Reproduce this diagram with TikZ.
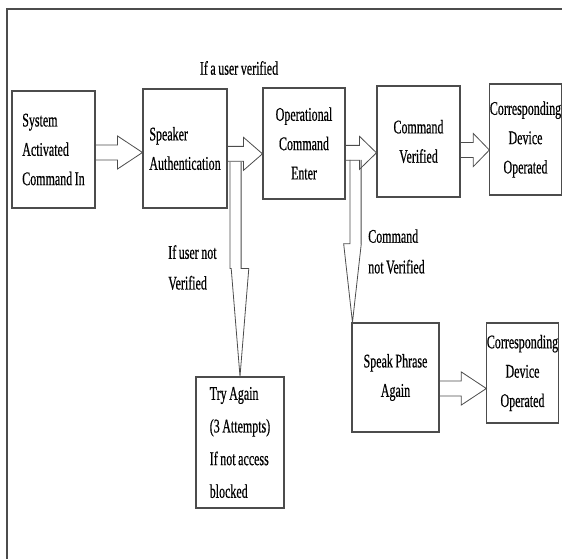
\documentclass[tikz,border=0pt]{standalone}
\usepackage{fontspec}
\setmainfont{Liberation Serif}[FakeStretch=0.62,WordSpace=0.85,FakeBold=0.5]
\usetikzlibrary{calc}

% hollow block arrows, sizes in pt
\newcommand\harrow[3]{%
  \draw[blockarr] let \p1=#1, \p2=#2 in
    (\x1,\y1+5.6pt) -- (\x2-#3,\y1+5.6pt) -- (\x2-#3,\y1+12.4pt) -- (\x2,\y1)
    -- (\x2-#3,\y1-12.4pt) -- (\x2-#3,\y1-5.6pt) -- (\x1,\y1-5.6pt);
}
\newcommand\varrow[3]{%
  \draw[blockarr] let \p1=#1, \p2=#2 in
    (\x1-4.2pt,\y1) -- (\x1-4.2pt,\y2+#3) -- (\x2-6.6pt,\y2+#3) -- (\x2,\y2)
    -- (\x2+6.6pt,\y2+#3) -- (\x1+4.2pt,\y2+#3) -- (\x1+4.2pt,\y1);
}

\begin{document}
\begin{tikzpicture}[x=0.75pt,y=-0.75pt,
    box/.style={draw=black!70,line width=0.8pt,inner sep=2pt,
      font=\fontsize{14.5}{22}\selectfont},
    blockarr/.style={draw=black!70,line width=0.6pt,line join=miter},
    lbl/.style={font=\fontsize{14.5}{23}\selectfont,inner sep=0pt}]
  \useasboundingbox (0,0) rectangle (562,559);
  % frame
  \draw[black!70,line width=1.1pt] (7,559) -- (7,9) -- (562,9);

  % top row
  \node[box,minimum width=62.25pt,minimum height=87.75pt,align=left]
    (act) at (53.5,149.5) {System\\Activated\\Command In};
  \node[box,minimum width=63pt,minimum height=89.25pt,align=left]
    (spk) at (185,148.5) {Speaker\\Authentication};
  \node[box,minimum width=61.5pt,minimum height=83.25pt,align=center]
    (opc) at (304,143.5) {Operational\\Command\\Enter};
  \node[box,minimum width=62.25pt,minimum height=83.25pt,align=center]
    (cmv) at (418.5,141.5) {Command\\Verified};
  \node[box,minimum width=51.75pt,minimum height=83.25pt,align=center,inner sep=0pt]
    (dev1) at (525.5,139.5) {Corresponding\\Device\\Operated};

  % lower boxes
  \node[box,minimum width=66pt,minimum height=98.25pt,align=left,
    font=\fontsize{14.5}{24.5}\selectfont]
    (try) at (240,442.5) {Try Again\\(3 Attempts)\\If not access\\blocked};
  \node[box,minimum width=65.25pt,minimum height=81.75pt,align=center]
    (spa) at (395.5,377.5) {Speak Phrase\\Again};
  \node[box,minimum width=51.75pt,minimum height=75pt,align=center,inner sep=0pt]
    (dev2) at (522.5,373) {Corresponding\\Device\\Operated};

  % labels
  \node[lbl] (ok) at (239,68) {If a user verified};
  \node[lbl,anchor=west,align=left] (nok) at (168,267.5) {If user not\\Verified};
  \node[lbl,anchor=west,align=left] (cnv) at (368,251.5) {Command\\not Verified};

  % arrows
  \harrow{([yshift=-2.25pt]act.east)}{(spk.west)}{18.75pt}
  \harrow{([yshift=-4pt]spk.east)}{(opc.west)}{14.25pt}
  \harrow{([yshift=-7pt]opc.east)}{(cmv.west)}{12.75pt}
  \harrow{([yshift=-6.4pt]cmv.east)}{(dev1.west)}{12pt}
  \harrow{([yshift=-8.25pt]spa.east)}{(dev2.west)}{18.75pt}

  \coordinate (v1) at (235.5,162);
  \coordinate (v2) at (355.5,160);
  \varrow{(v1)}{(try.north)}{81pt}
  \varrow{(v2)}{([xshift=0.75pt]spa.north west)}{59pt}
\end{tikzpicture}
\end{document}
